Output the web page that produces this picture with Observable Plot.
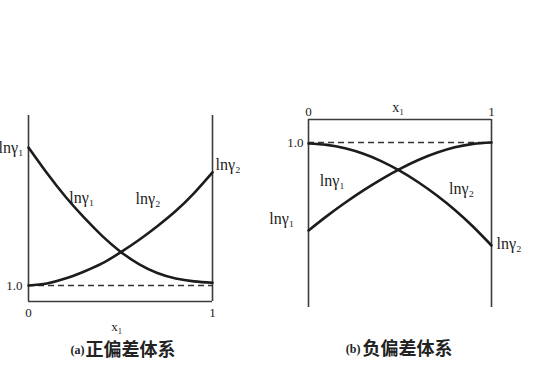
<!DOCTYPE html>
<html><head><meta charset="utf-8">
<script src="https://cdn.jsdelivr.net/npm/d3@7"></script>
<script src="https://cdn.jsdelivr.net/npm/@observablehq/plot@0.6"></script>
<style>
body{margin:0;background:#fff;}
#wrap{position:relative;width:536px;height:390px;overflow:hidden;background:#fff;}
#wrap svg{position:absolute;top:0;}
</style></head><body><div id="wrap"></div>
<script>
// mole fraction x1
const x1 = [0, 0.1, 0.2, 0.3, 0.4, 0.5, 0.6, 0.7, 0.8, 0.9, 1.0];
// (a) positive deviation
const aLnG1 = [3.00, 2.63, 2.29, 1.99, 1.72, 1.49, 1.31, 1.18, 1.10, 1.06, 1.04];
const aLnG2 = [1.00, 1.03, 1.10, 1.20, 1.32, 1.48, 1.66, 1.86, 2.08, 2.34, 2.64];
// (b) negative deviation
const bLnG1 = [-0.285, -0.075, 0.12, 0.30, 0.465, 0.615, 0.745, 0.85, 0.93, 0.98, 1.0];
const bLnG2 = [0.985, 0.965, 0.915, 0.835, 0.725, 0.585, 0.42, 0.23, 0.015, -0.23, -0.504];
const xTicks = [0, 1];
const yRef = [1.0];
const lab1 = "lnγ₁", lab2 = "lnγ₂", xLab = "x₁";
const capA = ["(a)", "正偏差体系"];
const capB = ["(b)", "负偏差体系"];

const serif = "Liberation Serif, DejaVu Serif, serif";
const cjk = "Noto Sans CJK SC, Noto Sans CJK JP, sans-serif";
const rows = ys => x1.map((x, i) => ({x, y: ys[i]}));
const curveStyle = {x: "x", y: "y", curve: "natural", stroke: "#1c1c1c", strokeWidth: 2.6};
const frameStyle = {stroke: "#3c3c3c", strokeWidth: 1.6};
const lbl = (t, x, y, extra = {}) => Plot.text([t], {x: () => x, y: () => y, text: d => d, fontSize: 16, fill: "#222", fontFamily: serif, ...extra});

const A = Plot.plot({
  width: 260, height: 390, marginLeft: 28, marginRight: 48, marginTop: 115, marginBottom: 89,
  x: {domain: [0, 1], axis: null}, y: {domain: [0.768, 3.464], axis: null},
  style: {background: "transparent", overflow: "visible"},
  marks: [
    Plot.ruleX(xTicks, frameStyle),
    Plot.ruleY([0.768], frameStyle),
    Plot.ruleY(yRef, {stroke: "#333", strokeWidth: 1.3, strokeDasharray: "6,4"}),
    Plot.line(rows(aLnG1), curveStyle),
    Plot.line(rows(aLnG2), curveStyle),
    Plot.text(xTicks, {x: d => d, y: () => 0.768, dy: 11, text: d => String(d), fontSize: 13, fill: "#222", fontFamily: serif}),
    Plot.text(yRef, {x: () => 0, y: d => d, dx: -6, textAnchor: "end", text: d => d.toFixed(1), fontSize: 13, fill: "#222", fontFamily: serif}),
    lbl(xLab, 0.48, 0.768, {dy: 25, fontSize: 13}),
    lbl(lab1, -0.027, 3.0, {textAnchor: "end"}),
    lbl(lab1, 0.29, 2.27),
    lbl(lab2, 0.65, 2.26),
    lbl(lab2, 1.016, 2.75, {textAnchor: "start"}),
    Plot.text([capA[0]], {x: () => 0.304, y: () => 0.768, dy: 49, text: d => d, textAnchor: "end", fontSize: 12, fontWeight: "bold", fill: "#222", fontFamily: serif}),
    Plot.text([capA[1]], {x: () => 0.310, y: () => 0.768, dy: 49, text: d => d, textAnchor: "start", fontSize: 18, fontWeight: "bold", fontFamily: cjk, fill: "#222"})
  ]
});

const B = Plot.plot({
  width: 276, height: 390, marginLeft: 48, marginRight: 45, marginTop: 119, marginBottom: 83,
  x: {domain: [0, 1], axis: null}, y: {domain: [-1.409, 1.336], axis: null},
  style: {background: "transparent", overflow: "visible"},
  marks: [
    Plot.ruleX(xTicks, frameStyle),
    Plot.ruleY([1.336], frameStyle),
    Plot.ruleY(yRef, {stroke: "#333", strokeWidth: 1.3, strokeDasharray: "6,4"}),
    Plot.line(rows(bLnG1), curveStyle),
    Plot.line(rows(bLnG2), curveStyle),
    Plot.text(xTicks, {x: d => d, y: () => 1.336, dy: -8, text: d => String(d), fontSize: 13, fill: "#222", fontFamily: serif}),
    Plot.text(yRef, {x: () => 0, y: d => d, dx: -5, textAnchor: "end", text: d => d.toFixed(1), fontSize: 13, fill: "#222", fontFamily: serif}),
    lbl(xLab, 0.49, 1.336, {dy: -12, fontSize: 14}),
    lbl(lab1, 0.13, 0.445),
    lbl(lab2, 0.836, 0.33),
    lbl(lab1, -0.077, -0.11, {textAnchor: "end"}),
    lbl(lab2, 1.027, -0.474, {textAnchor: "start"}),
    Plot.text([capB[0]], {x: () => 0.284, y: () => -1.409, dy: 42, text: d => d, textAnchor: "end", fontSize: 12, fontWeight: "bold", fill: "#222", fontFamily: serif}),
    Plot.text([capB[1]], {x: () => 0.295, y: () => -1.409, dy: 42, text: d => d, textAnchor: "start", fontSize: 18, fontWeight: "bold", fontFamily: cjk, fill: "#222"})
  ]
});
A.style.left = "0px";
B.style.left = "260px";
const wrap = document.getElementById("wrap");
wrap.appendChild(A);
wrap.appendChild(B);
</script></body></html>
